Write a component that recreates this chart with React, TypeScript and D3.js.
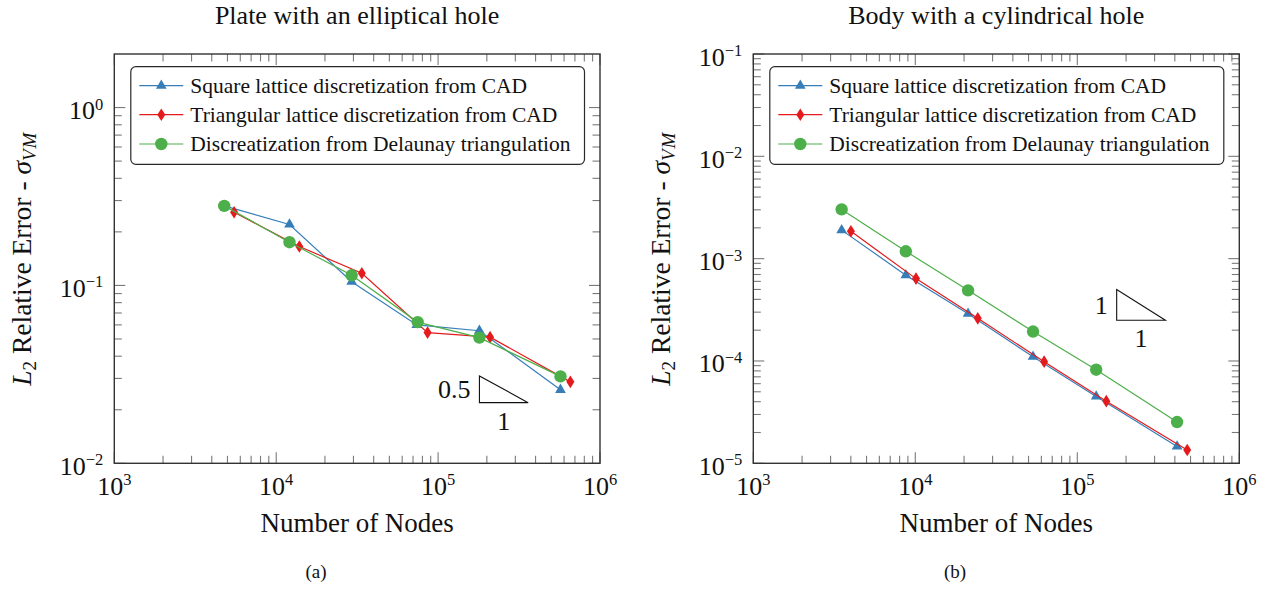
import React from 'react';
import * as d3 from 'd3';

const FONT = "'Liberation Serif', 'DejaVu Serif', 'Times New Roman', Times, serif";
const BLUE = '#377eb8';
const RED = '#e41a1c';
const GREEN = '#4daf4a';

// (a) Plate with an elliptical hole
const plateSquareNodes = [4775, 12080, 29250, 73900, 179900, 570000];
const plateSquareError = [0.28, 0.22, 0.105, 0.06, 0.0556, 0.0259];
const plateTriNodes = [5495, 13900, 33800, 86100, 209400, 656000];
const plateTriError = [0.258, 0.1655, 0.117, 0.0543, 0.0512, 0.0287];
const plateDelNodes = [4775, 12080, 29250, 74800, 179900, 570000];
const plateDelError = [0.28, 0.175, 0.114, 0.0622, 0.0509, 0.0308];

// (b) Body with a cylindrical hole
const bodySquareNodes = [3510, 8740, 21170, 53300, 130800, 413000];
const bodySquareError = [0.0019, 0.00069, 0.00029, 0.00011, 4.5e-5, 1.46e-5];
const bodyTriNodes = [4005, 10100, 24300, 62400, 151000, 477000];
const bodyTriError = [0.00185, 0.000638, 0.000261, 9.85e-5, 4.05e-5, 1.35e-5];
const bodyDelNodes = [3510, 8740, 21170, 53300, 130800, 413000];
const bodyDelError = [0.00303, 0.00118, 0.00049, 0.000194, 8.22e-5, 2.53e-5];

const legendLabels = [
  'Square lattice discretization from CAD',
  'Triangular lattice discretization from CAD',
  'Discreatization from Delaunay triangulation',
];

const xTicks = [1e3, 1e4, 1e5, 1e6];
const xTickExps = ['3', '4', '5', '6'];
const plateYTicks = [0.01, 0.1, 1];
const plateYExps = ['−2', '−1', '0'];
const bodyYTicks = [1e-5, 1e-4, 1e-3, 1e-2, 1e-1];
const bodyYExps = ['−5', '−4', '−3', '−2', '−1'];

type Shape = 'triangle' | 'diamond' | 'circle';

const Marker = ({ shape, x, y, color }: { shape: Shape; x: number; y: number; color: string }) => {
  if (shape === 'circle') return <circle cx={x} cy={y} r={6.2} fill={color} />;
  if (shape === 'diamond')
    return <polygon points={`${x},${y - 6.3} ${x + 4},${y} ${x},${y + 6.3} ${x - 4},${y}`} fill={color} />;
  const r = 6.2;
  return (
    <polygon
      points={`${x},${y - r} ${x + r * 0.866},${y + r / 2} ${x - r * 0.866},${y + r / 2}`}
      fill={color}
    />
  );
};

const minorTicks = (d0: number, d1: number) => {
  const out: number[] = [];
  for (let e = Math.floor(Math.log10(d0)); e <= Math.ceil(Math.log10(d1)); e++) {
    for (let m = 2; m <= 9; m++) {
      const v = m * Math.pow(10, e);
      if (v > d0 * 1.0001 && v < d1 * 0.9999) out.push(v);
    }
  }
  return out;
};

interface Series { nodes: number[]; error: number[]; color: string; shape: Shape }

interface PanelProps {
  x0: number; x1: number; y0: number; y1: number;
  yDomain: [number, number];
  yTicks: number[]; yExps: string[];
  title: string;
  series: Series[];
  slopeX: [number, number]; slopeTop: number; slopeOrder: number; slopeLabel: string;
  caption: string; captionX: number;
}

const Panel = (p: PanelProps) => {
  const x = d3.scaleLog().domain([1e3, 1e6]).range([p.x0, p.x1]);
  const y = d3.scaleLog().domain(p.yDomain).range([p.y1, p.y0]);
  const major = 11;
  const minor = 7.5;
  const tickColor = '#7a7a7a';

  const line = d3.line<[number, number]>().x(d => x(d[0])).y(d => y(d[1]));

  // slope triangle in data coordinates
  const sx0 = x(p.slopeX[0]);
  const sx1 = x(p.slopeX[1]);
  const sy0 = y(p.slopeTop);
  const sy1 = y(p.slopeTop / Math.pow(p.slopeX[1] / p.slopeX[0], p.slopeOrder));

  const cx = (p.x0 + p.x1) / 2;
  const cy = (p.y0 + p.y1) / 2;
  const lx0 = p.x0 + 16.5;
  const lx1 = p.x1 - 15.5;
  const entryY = [85.7, 114.7, 144];

  return (
    <g style={{ fontFamily: FONT }} fill="#111">
      <text x={cx} y={24} textAnchor="middle" fontSize={26}>{p.title}</text>

      {/* ticks, mirrored on all sides */}
      <g stroke={tickColor} strokeWidth={1.1}>
        {minorTicks(1e3, 1e6).map(v => (
          <g key={'mx' + v}>
            <line x1={x(v)} x2={x(v)} y1={p.y1} y2={p.y1 - minor} />
            <line x1={x(v)} x2={x(v)} y1={p.y0} y2={p.y0 + minor} />
          </g>
        ))}
        {xTicks.map(v => (
          <g key={'Mx' + v}>
            <line x1={x(v)} x2={x(v)} y1={p.y1} y2={p.y1 - major} />
            <line x1={x(v)} x2={x(v)} y1={p.y0} y2={p.y0 + major} />
          </g>
        ))}
        {minorTicks(p.yDomain[0], p.yDomain[1]).map(v => (
          <g key={'my' + v}>
            <line x1={p.x0} x2={p.x0 + minor} y1={y(v)} y2={y(v)} />
            <line x1={p.x1} x2={p.x1 - minor} y1={y(v)} y2={y(v)} />
          </g>
        ))}
        {p.yTicks.map(v => (
          <g key={'My' + v}>
            <line x1={p.x0} x2={p.x0 + major} y1={y(v)} y2={y(v)} />
            <line x1={p.x1} x2={p.x1 - major} y1={y(v)} y2={y(v)} />
          </g>
        ))}
      </g>

      <rect x={p.x0} y={p.y0} width={p.x1 - p.x0} height={p.y1 - p.y0} fill="none" stroke="#333" strokeWidth={1.4} />

      {/* tick labels */}
      {xTicks.map((v, i) => (
        <text key={'lx' + v} x={x(v)} y={p.y1 + 31.5} textAnchor="middle" fontSize={26}>
          10<tspan fontSize={16.5} dy={-9.5}>{xTickExps[i]}</tspan>
        </text>
      ))}
      {p.yTicks.map((v, i) => (
        <text key={'ly' + v} x={p.x0 - 11} y={y(v) + 11.5} textAnchor="end" fontSize={26}>
          10<tspan fontSize={16.5} dy={-9.5}>{p.yExps[i]}</tspan>
        </text>
      ))}

      {/* axis labels */}
      <text x={cx} y={531.5} textAnchor="middle" fontSize={27}>Number of Nodes</text>
      <text transform={`translate(${p.x0 - 83},${cy}) rotate(-90)`} textAnchor="middle" fontSize={27.5}>
        <tspan fontStyle="italic">L</tspan>
        <tspan fontSize={19} dy={5}>2</tspan>
        <tspan dy={-5}> Relative Error - </tspan>
        <tspan fontStyle="italic">σ</tspan>
        <tspan fontStyle="italic" fontSize={19} dy={5} letterSpacing={1}>VM</tspan>
      </text>

      {/* series */}
      {p.series.map((s, i) => {
        const pts = s.nodes.map((n, j) => [n, s.error[j]] as [number, number]);
        return (
          <g key={'s' + i}>
            <path d={line(pts) || ''} fill="none" stroke={s.color} strokeWidth={1.2} />
            {pts.map((d, j) => (
              <Marker key={j} shape={s.shape} x={x(d[0])} y={y(d[1])} color={s.color} />
            ))}
          </g>
        );
      })}

      {/* slope triangle */}
      <path d={`M${sx0},${sy0} L${sx0},${sy1} L${sx1},${sy1} Z`} fill="none" stroke="#111" strokeWidth={1.1} />
      <text x={sx0 - 9} y={(sy0 + sy1) / 2 + 9} textAnchor="end" fontSize={26}>{p.slopeLabel}</text>
      <text x={(sx0 + sx1) / 2} y={sy1 + 27} textAnchor="middle" fontSize={26}>1</text>

      {/* legend */}
      <rect x={lx0} y={66.7} width={lx1 - lx0} height={97.6} rx={5} fill="#fff" stroke="#2a2a2a" strokeWidth={1.2} />
      {p.series.map((s, i) => (
        <g key={'lg' + i}>
          <line x1={lx0 + 8.5} x2={lx0 + 52.5} y1={entryY[i]} y2={entryY[i]} stroke={s.color} strokeWidth={1.2} />
          <Marker shape={s.shape} x={lx0 + 30.5} y={entryY[i]} color={s.color} />
          <text x={lx0 + 59.5} y={entryY[i] + 7.2} fontSize={21.5}>{legendLabels[i]}</text>
        </g>
      ))}

      <text x={p.captionX} y={578} textAnchor="middle" fontSize={19}>{p.caption}</text>
    </g>
  );
};

export default function App() {
  const plateSeries: Series[] = [
    { nodes: plateSquareNodes, error: plateSquareError, color: BLUE, shape: 'triangle' },
    { nodes: plateTriNodes, error: plateTriError, color: RED, shape: 'diamond' },
    { nodes: plateDelNodes, error: plateDelError, color: GREEN, shape: 'circle' },
  ];
  const bodySeries: Series[] = [
    { nodes: bodySquareNodes, error: bodySquareError, color: BLUE, shape: 'triangle' },
    { nodes: bodyTriNodes, error: bodyTriError, color: RED, shape: 'diamond' },
    { nodes: bodyDelNodes, error: bodyDelError, color: GREEN, shape: 'circle' },
  ];
  return (
    <svg width={1277} height={589} style={{ position: 'absolute', left: 0, top: 0, background: '#fff' }}>
      <Panel
        x0={114.3} x1={600} y0={54} y1={463.3}
        yDomain={[0.01, 2]} yTicks={plateYTicks} yExps={plateYExps}
        title="Plate with an elliptical hole"
        series={plateSeries}
        slopeX={[1.8e5, 3.6e5]} slopeTop={0.031} slopeOrder={0.5} slopeLabel="0.5"
        caption="(a)" captionX={316}
      />
      <Panel
        x0={753.3} x1={1239.3} y0={54} y1={463.3}
        yDomain={[1e-5, 1e-1]} yTicks={bodyYTicks} yExps={bodyYExps}
        title="Body with a cylindrical hole"
        series={bodySeries}
        slopeX={[1.75e5, 3.5e5]} slopeTop={5e-4} slopeOrder={1} slopeLabel="1"
        caption="(b)" captionX={955}
      />
    </svg>
  );
}
